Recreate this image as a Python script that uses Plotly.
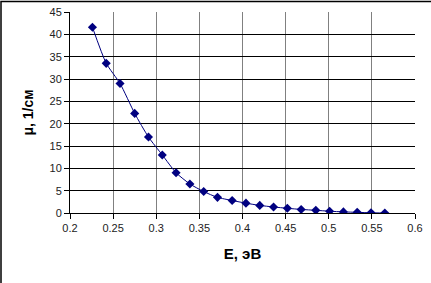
import plotly.graph_objects as go

energy = [0.226, 0.242, 0.258, 0.275, 0.291, 0.307, 0.323, 0.339, 0.355, 0.371, 0.388,
          0.404, 0.420, 0.436, 0.452, 0.468, 0.485, 0.501, 0.517, 0.533, 0.549, 0.565]
mu = [41.6, 33.5, 29.0, 22.3, 17.0, 13.0, 9.0, 6.5, 4.8, 3.5, 2.8,
      2.2, 1.7, 1.35, 1.05, 0.8, 0.6, 0.4, 0.25, 0.15, 0.05, 0.0]

x_ticks = [0.2, 0.25, 0.3, 0.35, 0.4, 0.45, 0.5, 0.55, 0.6]
x_tick_labels = ["0.2", "0.25", "0.3", "0.35", "0.4", "0.45", "0.5", "0.55", "0.6"]
y_ticks = [0, 5, 10, 15, 20, 25, 30, 35, 40, 45]

L, R, T, B = 70, 16, 12, 70
W, H = 431, 283
PW, PH = W - L - R, H - T - B

fig = go.Figure()
fig.add_trace(go.Scatter(
    x=energy, y=mu, mode="lines+markers",
    line=dict(color="#000080", width=1, shape="spline", smoothing=0.6),
    marker=dict(symbol="diamond", size=7, color="#000080"),
    showlegend=False,
))

fig.update_layout(
    width=W, height=H,
    margin=dict(l=L, r=R, t=T, b=B, autoexpand=False),
    paper_bgcolor="white", plot_bgcolor="white",
    font=dict(family="Liberation Sans, Arial, sans-serif", size=11, color="#222"),
    xaxis=dict(
        range=[0.2, 0.6], tickvals=x_ticks, ticktext=x_tick_labels,
        showgrid=True, gridcolor="#808080", gridwidth=1,
        showline=True, linecolor="black", linewidth=1,
        ticks="outside", ticklen=5, tickcolor="black",
        zeroline=False, automargin=False,
        title=dict(text="<b>E, эВ</b>", font=dict(size=15, color="black"), standoff=15),
    ),
    yaxis=dict(
        range=[0, 45], tickvals=y_ticks,
        showgrid=True, gridcolor="black", gridwidth=1,
        showline=True, linecolor="black", linewidth=1,
        ticks="outside", ticklen=5, tickcolor="black",
        zeroline=False, automargin=False,
        title=dict(text="<b>μ, 1/см</b>", font=dict(size=14, color="black"), standoff=12),
    ),
)

# figure frame: top and left borders
fig.add_shape(type="rect", xref="paper", yref="paper",
              x0=(-L + 1) / PW, x1=(W - L + 5) / PW, y0=(-B - 5) / PH, y1=(PH + T - 1.5) / PH,
              line=dict(color="black", width=1.5), layer="above")

fig.write_html("out.html")
